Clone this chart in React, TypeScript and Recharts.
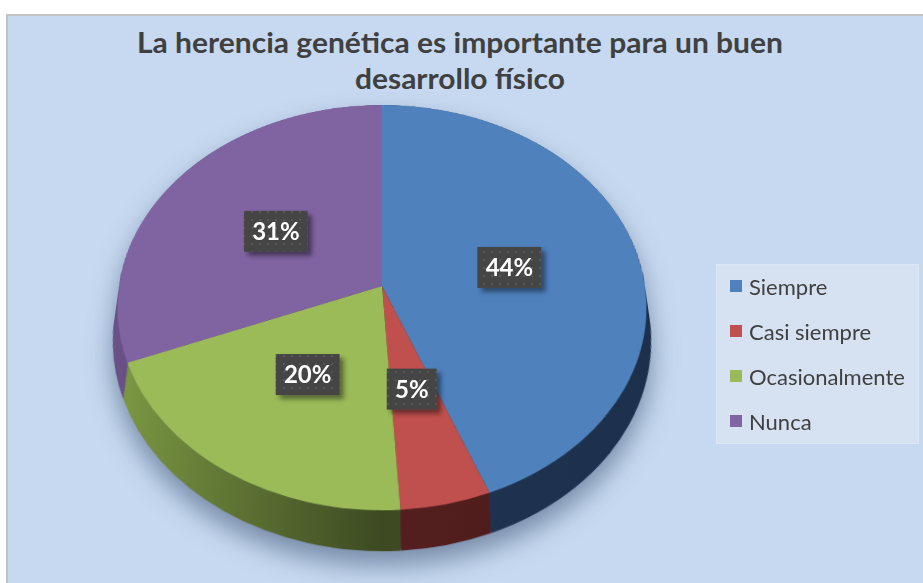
import React from 'react';
import { PieChart, Pie, Cell, Legend } from 'recharts';

const CATEGORIES = ['Siempre', 'Casi siempre', 'Ocasionalmente', 'Nunca'];
const VALUES = [44, 5, 20, 31];
const TOP_COLORS = ['#4f81bd', '#c0504d', '#9bbb59', '#8064a2'];
const SIDE_FILLS = ['url(#sideBlue)', 'url(#sideRed)', 'url(#sideGreen)', 'url(#sidePurple)'];
const TITLE_LINES = ['La herencia genética es importante para un buen', 'desarrollo físico'];

const data = CATEGORIES.map((name, i) => ({ name, value: VALUES[i] }));

// fake 3D: tilt the pie with css perspective, side wall = stacked shifted copies
const PERSPECTIVE = 1593;
const TILT = 40.4;
const RADIUS = 263;
const CX = 381.5;
const CY = 286;
const DEPTHS = Array.from({ length: 15 }, (_, i) => 42 - 3 * i);
const NO_MARGIN = { top: 0, right: 0, bottom: 0, left: 0 };

const FONT = 'Lato, "Open Sans", sans-serif';

function renderLabel(props: any) {
  const { midAngle, outerRadius, percent } = props;
  const rad = (midAngle * Math.PI) / 180;
  const r = outerRadius * 0.5;
  const px = r * Math.cos(rad);
  const py = -r * Math.sin(rad);
  const t = (TILT * Math.PI) / 180;
  const k = PERSPECTIVE / (PERSPECTIVE - py * Math.sin(t));
  const x = CX + px * k;
  const y = CY + py * Math.cos(t) * k;
  const text = `${Math.round(percent * 100)}%`;
  const w = text.length > 2 ? 64 : 50;
  const h = 41;
  return (
    <g>
      <rect x={x - w / 2} y={y - h / 2} width={w} height={h} fill="url(#dots)" filter="url(#boxShadow)" />
      <text
        x={x}
        y={y + 8.5}
        textAnchor="middle"
        fill="#ffffff"
        style={{ fontFamily: FONT, fontWeight: 700, fontSize: 24 }}
      >
        {text}
      </text>
    </g>
  );
}

function renderLegend(props: any) {
  const items = [...(props.payload || [])].sort(
    (a: any, b: any) => CATEGORIES.indexOf(a.value) - CATEGORIES.indexOf(b.value),
  );
  return (
    <div
      style={{
        position: 'relative',
        width: 203,
        height: 180,
        background: '#d6e2f1',
        border: '1px solid #dde7f3',
        boxSizing: 'border-box',
      }}
    >
      {items.map((entry: any, i: number) => (
        <div
          key={entry.value}
          style={{
            position: 'absolute',
            left: 13,
            top: 8 + 45 * i,
            height: 26,
            display: 'flex',
            alignItems: 'center',
          }}
        >
          <span
            style={{
              width: 12,
              height: 12,
              background: TOP_COLORS[CATEGORIES.indexOf(entry.value)],
              display: 'inline-block',
            }}
          />
          <span style={{ marginLeft: 7, fontFamily: FONT, fontSize: 22, color: '#404040', whiteSpace: 'nowrap' }}>
            {entry.value}
          </span>
        </div>
      ))}
    </div>
  );
}

export default function App() {
  return (
    <div style={{ position: 'absolute', left: 0, top: 0, width: 923, height: 583, overflow: 'hidden', background: '#ffffff' }}>
      <div
        style={{
          position: 'absolute',
          left: 6,
          top: 14,
          width: 923,
          height: 583,
          background: '#c6d9f0',
          borderLeft: '2px solid #c3c3c3',
          borderTop: '2px solid #c3c3c3',
        }}
      />

      <svg width={923} height={110} style={{ position: 'absolute', left: 0, top: 0 }}>
        <text
          x={460}
          y={53}
          textAnchor="middle"
          textLength={646}
          lengthAdjust="spacingAndGlyphs"
          fill="#404040"
          style={{ fontFamily: FONT, fontWeight: 700, fontSize: 29 }}
        >
          {TITLE_LINES[0]}
        </text>
        <text
          x={460}
          y={89}
          textAnchor="middle"
          textLength={210}
          lengthAdjust="spacingAndGlyphs"
          fill="#404040"
          style={{ fontFamily: FONT, fontWeight: 700, fontSize: 29 }}
        >
          {TITLE_LINES[1]}
        </text>
      </svg>

      <div
        style={{
          position: 'absolute',
          left: 0,
          top: 0,
          width: 923,
          height: 583,
          filter: 'drop-shadow(0px 14px 13px rgba(40, 60, 95, 0.5))',
        }}
      >
        <div
          style={{
            position: 'absolute',
            left: CX - 300,
            top: CY - 300,
            width: 600,
            height: 660,
            transformOrigin: '300px 300px',
            transform: `perspective(${PERSPECTIVE}px) rotateX(${TILT}deg)`,
          }}
        >
          <PieChart width={600} height={660} margin={NO_MARGIN}>
            <defs>
              <linearGradient id="sideGreen" gradientUnits="userSpaceOnUse" x1={37} y1={0} x2={300} y2={0}>
                <stop offset="0%" stopColor="#7f9d45" />
                <stop offset="100%" stopColor="#3d4a22" />
              </linearGradient>
              <linearGradient id="sideBlue" gradientUnits="userSpaceOnUse" x1={300} y1={0} x2={563} y2={0}>
                <stop offset="0%" stopColor="#1f3452" />
                <stop offset="100%" stopColor="#1c304c" />
              </linearGradient>
              <linearGradient id="sideRed" gradientUnits="userSpaceOnUse" x1={280} y1={0} x2={420} y2={0}>
                <stop offset="0%" stopColor="#561f1f" />
                <stop offset="100%" stopColor="#4e1c1c" />
              </linearGradient>
              <linearGradient id="sidePurple" gradientUnits="userSpaceOnUse" x1={37} y1={0} x2={300} y2={0}>
                <stop offset="0%" stopColor="#6a5288" />
                <stop offset="100%" stopColor="#4a3a5f" />
              </linearGradient>
            </defs>
            {DEPTHS.map((d) => (
              <Pie
                key={`side-${d}`}
                data={data}
                dataKey="value"
                nameKey="name"
                cx={300}
                cy={300 + d}
                outerRadius={RADIUS}
                startAngle={90}
                endAngle={-270}
                stroke="none"
                isAnimationActive={false}
              >
                {data.map((_, i) => (
                  <Cell key={`s-${d}-${i}`} fill={SIDE_FILLS[i]} />
                ))}
              </Pie>
            ))}
            <Pie
              data={data}
              dataKey="value"
              nameKey="name"
              cx={300}
              cy={300}
              outerRadius={RADIUS}
              startAngle={90}
              endAngle={-270}
              stroke="none"
              isAnimationActive={false}
            >
              {data.map((_, i) => (
                <Cell key={`top-${i}`} fill={TOP_COLORS[i]} />
              ))}
            </Pie>
          </PieChart>
        </div>
      </div>

      <div style={{ position: 'absolute', left: 0, top: 0 }}>
        <PieChart width={923} height={583} margin={NO_MARGIN}>
          <defs>
            <pattern id="dots" width={8} height={8} patternUnits="userSpaceOnUse">
              <rect width={8} height={8} fill="#454545" />
              <circle cx={4} cy={4} r={1} fill="#5c5c5c" />
            </pattern>
            <filter id="boxShadow" x="-30%" y="-30%" width="160%" height="160%">
              <feDropShadow dx={4} dy={4} stdDeviation={2.5} floodColor="#000000" floodOpacity={0.45} />
            </filter>
          </defs>
          <Pie
            data={data}
            dataKey="value"
            nameKey="name"
            cx={CX}
            cy={CY}
            outerRadius={RADIUS}
            startAngle={90}
            endAngle={-270}
            stroke="none"
            labelLine={false}
            label={renderLabel}
            isAnimationActive={false}
          >
            {data.map((_, i) => (
              <Cell key={`lbl-${i}`} fill={TOP_COLORS[i]} fillOpacity={0} />
            ))}
          </Pie>
          <Legend
            layout="vertical"
            align="right"
            verticalAlign="top"
            itemSorter={null}
            content={renderLegend}
            wrapperStyle={{ left: 716, top: 264, width: 203, height: 180 }}
          />
        </PieChart>
      </div>
    </div>
  );
}
